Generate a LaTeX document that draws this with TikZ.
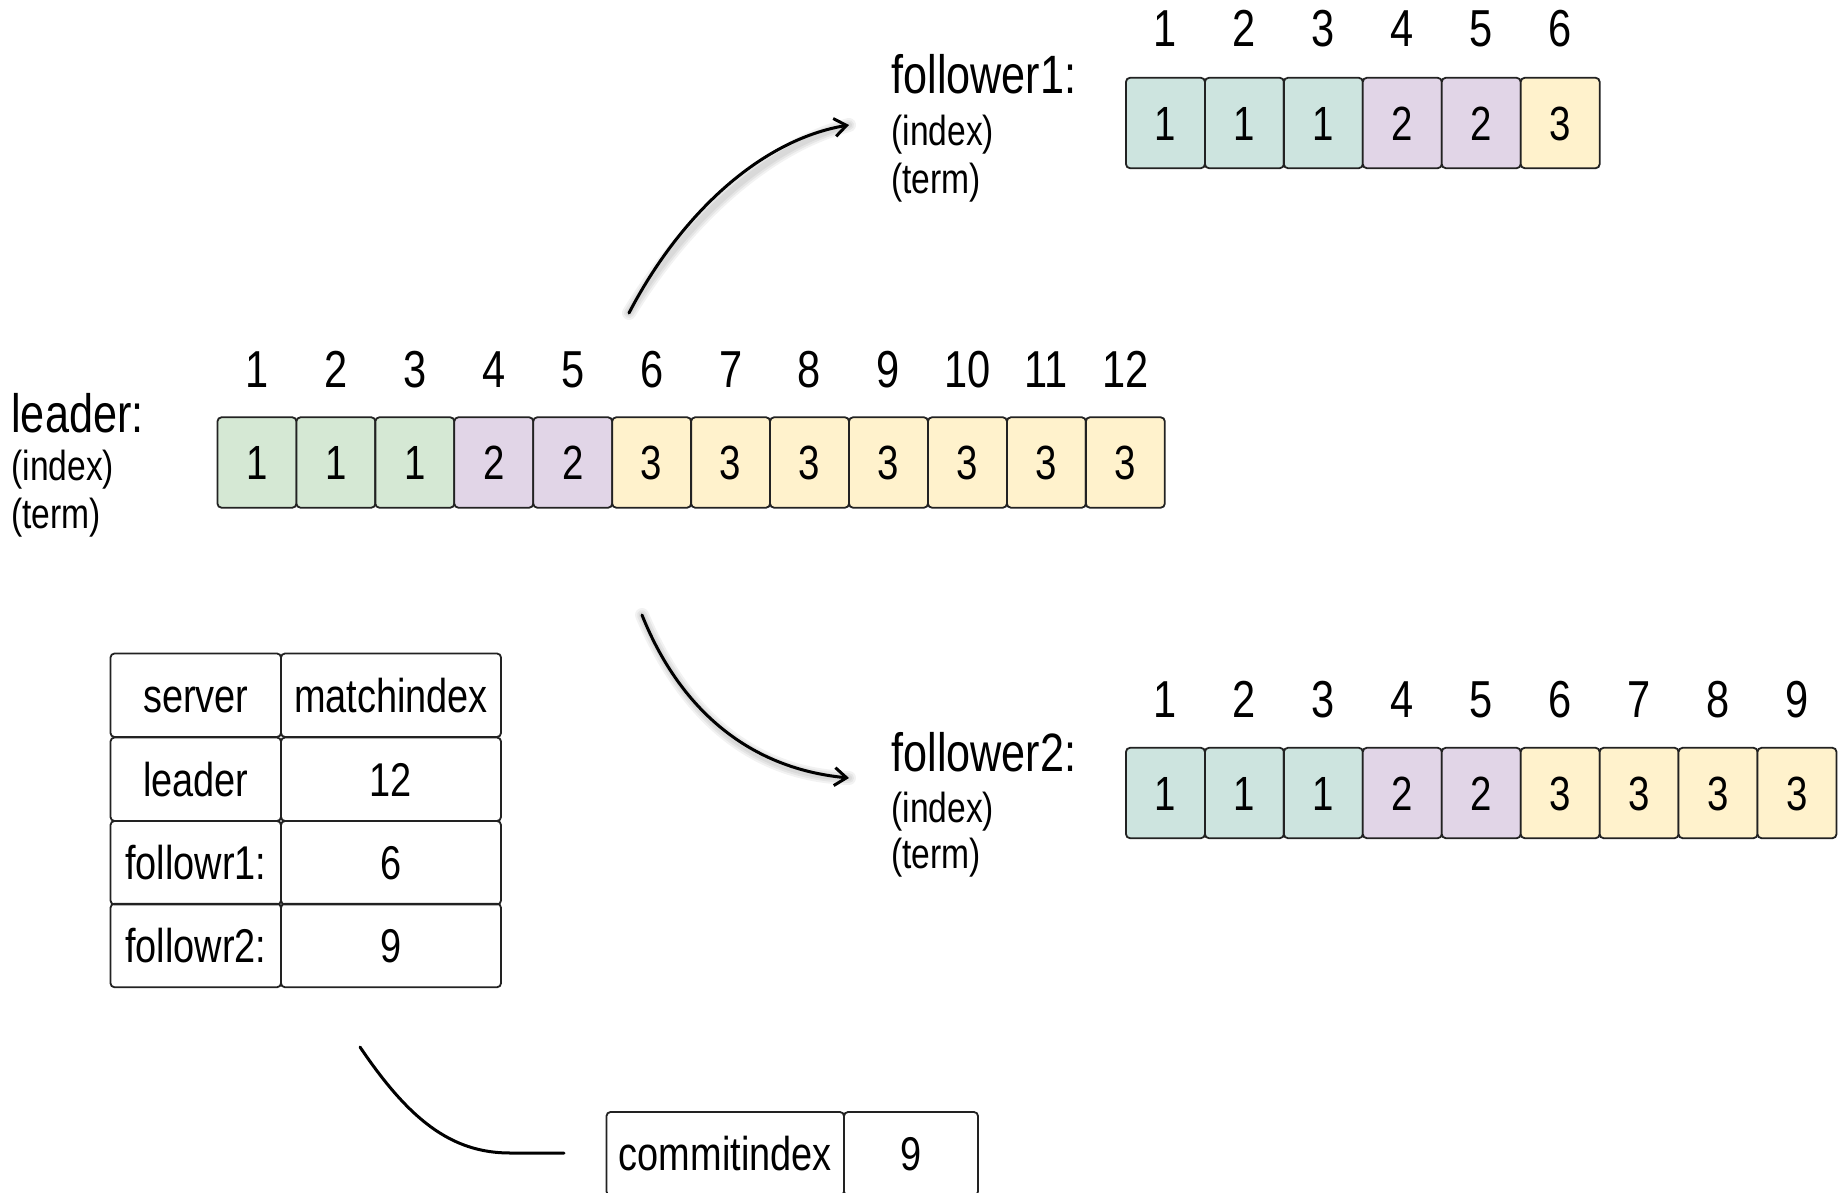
\documentclass[tikz,border=0pt]{standalone}
\usepackage{fontspec}
\setmainfont[FakeStretch=0.8]{Liberation Sans}
\usetikzlibrary{arrows.meta}
\definecolor{tgreen}{HTML}{D5E8D4}
\definecolor{tpurple}{HTML}{E1D5E7}
\definecolor{tyellow}{HTML}{FFF2CC}
\definecolor{tteal}{HTML}{CDE4DF}
\definecolor{edge}{HTML}{222222}

\begin{document}
\begin{tikzpicture}[x=0.5pt,y=-0.5pt,
  logcell/.style={draw=edge, line width=0.9pt, rounded corners=2pt,
    minimum width=39.47pt, minimum height=45.2pt, inner sep=0pt,
    text height=17.3pt, text depth=0pt, font=\fontsize{24}{28}\selectfont},
  idx/.style={inner sep=0pt, text height=18.7pt, text depth=0pt,
    font=\fontsize{26}{30}\selectfont},
  srvname/.style={anchor=base west, inner sep=0pt, font=\fontsize{27}{30}\selectfont},
  srvsub/.style={anchor=base west, inner sep=0pt, font=\fontsize{21}{24}\selectfont},
  tabcell/.style={draw=edge, line width=0.9pt, rounded corners=2pt, inner sep=0pt,
    minimum height=41.75pt, text height=17.1pt, text depth=0pt,
    font=\fontsize{23.7}{28}\selectfont},
  flow/.style={line width=1.5pt, line cap=round,
    -{Straight Barb[length=6pt,width=9pt,line width=1.5pt]}},
  plain/.style={line width=1.5pt, line cap=round},
  haze/.style={draw=black, line cap=round, opacity=0.05}
]
\fill[white] (0,0) rectangle (1843,1193);
\useasboundingbox (0,0) rectangle (1843,1193);
\clip (0,0) rectangle (1843,1193);

% ---------- leader log ----------
\node[srvname] (leaderlbl) at (11,432) {leader:};
\node[srvsub] (leaderidx) at (11,480) {(index)};
\node[srvsub] (leaderterm) at (11,528) {(term)};
\foreach \i/\t/\c in {1/1/tgreen,2/1/tgreen,3/1/tgreen,4/2/tpurple,5/2/tpurple,
    6/3/tyellow,7/3/tyellow,8/3/tyellow,9/3/tyellow,10/3/tyellow,11/3/tyellow,12/3/tyellow}{
  \node[logcell, fill=\c] (L\i) at ({217.5+78.94*(\i-0.5)},462.5) {\t};
  \node[idx] (LH\i) at ({217.5+78.94*(\i-0.5)},369) {\i};
}

% ---------- follower1 log ----------
\node[srvname] (f1lbl) at (891,94) {follower1:};
\node[srvsub] (f1idx) at (891,146) {(index)};
\node[srvsub] (f1term) at (891,193) {(term)};
\foreach \i/\t/\c in {1/1/tteal,2/1/tteal,3/1/tteal,4/2/tpurple,5/2/tpurple,6/3/tyellow}{
  \node[logcell, fill=\c] (A\i) at ({1126+78.94*(\i-0.5)},123) {\t};
  \node[idx] (AH\i) at ({1126+78.94*(\i-0.5)},28) {\i};
}

% ---------- follower2 log ----------
\node[srvname] (f2lbl) at (891,771) {follower2:};
\node[srvsub] (f2idx) at (891,822) {(index)};
\node[srvsub] (f2term) at (891,868) {(term)};
\foreach \i/\t/\c in {1/1/tteal,2/1/tteal,3/1/tteal,4/2/tpurple,5/2/tpurple,
    6/3/tyellow,7/3/tyellow,8/3/tyellow,9/3/tyellow}{
  \node[logcell, fill=\c] (B\i) at ({1126+78.94*(\i-0.5)},793) {\t};
  \node[idx] (BH\i) at ({1126+78.94*(\i-0.5)},699) {\i};
}

% ---------- matchindex table ----------
\foreach \r/\name/\val/\y in {0/server/matchindex/695.25, 1/leader/12/779.25,
    2/followr1:/6/862.75, 3/followr2:/9/945.5}{
  \node[tabcell, minimum width=85.25pt] (S\r) at (195.75,\y) {\name};
  \node[tabcell, minimum width=110pt] (M\r) at (391,\y) {\val};
}

% ---------- commit index ----------
\node[tabcell, minimum width=118.75pt] (cilbl) at (725.25,1153.75) {commitindex};
\node[tabcell, minimum width=67pt] (cival) at (911,1153.75) {9};

% ---------- connectors ----------
\coordinate (up0) at (629,313);
\coordinate (up1) at (849,125);
\coordinate (dn0) at (642,615);
\coordinate (dn1) at (849,778);
\coordinate (cm0) at (360,1047);
\coordinate (cm1) at (564,1153);

% soft shadows under the two arrows
\foreach \w in {7,5,3}{
  \draw[haze, line width=\w pt, shift={(5,7)}] (up0) .. controls (680,215) and (760,140) .. (up1);
  \draw[haze, line width=\w pt, shift={(5,7)}] (dn0) .. controls (678,705) and (745,768) .. (dn1);
}
\draw[flow] (up0) .. controls (680,215) and (760,140) .. (up1);
\draw[flow] (dn0) .. controls (678,705) and (745,768) .. (dn1);
\draw[plain] (cm0) .. controls (408,1118) and (450,1153) .. (510,1153) -- (cm1);
\end{tikzpicture}
\end{document}
